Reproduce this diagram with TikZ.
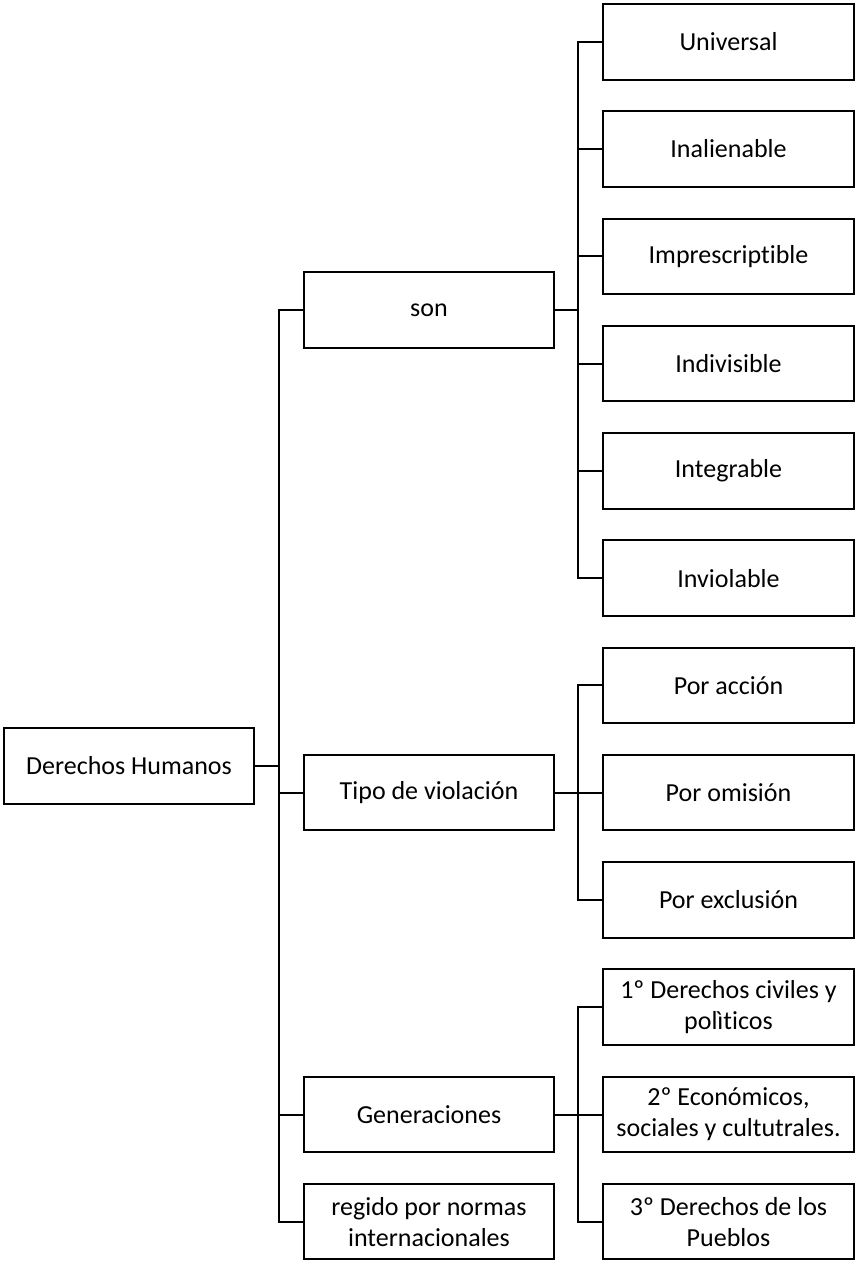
\documentclass[tikz,border=0pt]{standalone}
\usepackage{fontspec}
\setmainfont{Carlito}[Ligatures={NoCommon}]
\begin{document}
\begin{tikzpicture}[x=1pt,y=-1pt,
  box/.style={draw=black,line width=2pt,fill=white,inner sep=0pt,
    minimum height=75.5pt,align=center,font=\fontsize{26}{31}\selectfont},
  leaf/.style={box,minimum width=251pt},
  mid/.style={box,minimum width=250pt},
  conn/.style={draw=black,line width=2pt}]
\useasboundingbox (0,0) rectangle (855,1262);
% right column
\node[leaf] (u)   at (728.5,41.75)  {Universal};
\node[leaf] (ina) at (728.5,149.0)  {Inalienable};
\node[leaf] (imp) at (728.5,256.3)  {Imprescriptible};
\node[leaf] (ind) at (728.5,363.6)  {Indivisible};
\node[leaf] (int) at (728.5,470.8)  {Integrable};
\node[leaf] (inv) at (728.5,578.1)  {Inviolable};
\node[leaf] (pa)  at (728.5,685.4)  {Por acción};
\node[leaf] (po)  at (728.5,792.6)  {Por omisión};
\node[leaf] (pe)  at (728.5,899.9)  {Por exclusión};
\node[leaf] (g1)  at (728.5,1007.2) {1º Derechos civiles y\\polìticos};
\node[leaf] (g2)  at (728.5,1114.5) {2º Económicos,\\sociales y cultutrales.};
\node[leaf] (g3)  at (728.5,1221.7) {3º Derechos de los\\Pueblos};
% middle column
\node[mid] (son)  at (429,309.9)  {son};
\node[mid] (tipo) at (429,792.6)  {Tipo de violación};
\node[mid] (gen)  at (429,1114.5) {Generaciones};
\node[mid] (reg)  at (429,1221.7) {regido por normas\\internacionales};
% root
\node[mid] (root) at (129,765.8) {Derechos Humanos};
% junctions
\coordinate (j1) at (279,765.8);
\coordinate (j2) at (578,309.9);
\coordinate (j3) at (578,792.6);
\coordinate (j4) at (578,1114.5);
% connectors
\draw[conn] (root.east) -- (j1);
\foreach \n in {son,tipo,gen,reg} \draw[conn] (j1) |- (\n.west);
\draw[conn] (son.east) -- (j2);
\foreach \n in {u,ina,imp,ind,int,inv} \draw[conn] (j2) |- (\n.west);
\draw[conn] (tipo.east) -- (j3);
\foreach \n in {pa,po,pe} \draw[conn] (j3) |- (\n.west);
\draw[conn] (gen.east) -- (j4);
\foreach \n in {g1,g2,g3} \draw[conn] (j4) |- (\n.west);
\end{tikzpicture}
\end{document}
